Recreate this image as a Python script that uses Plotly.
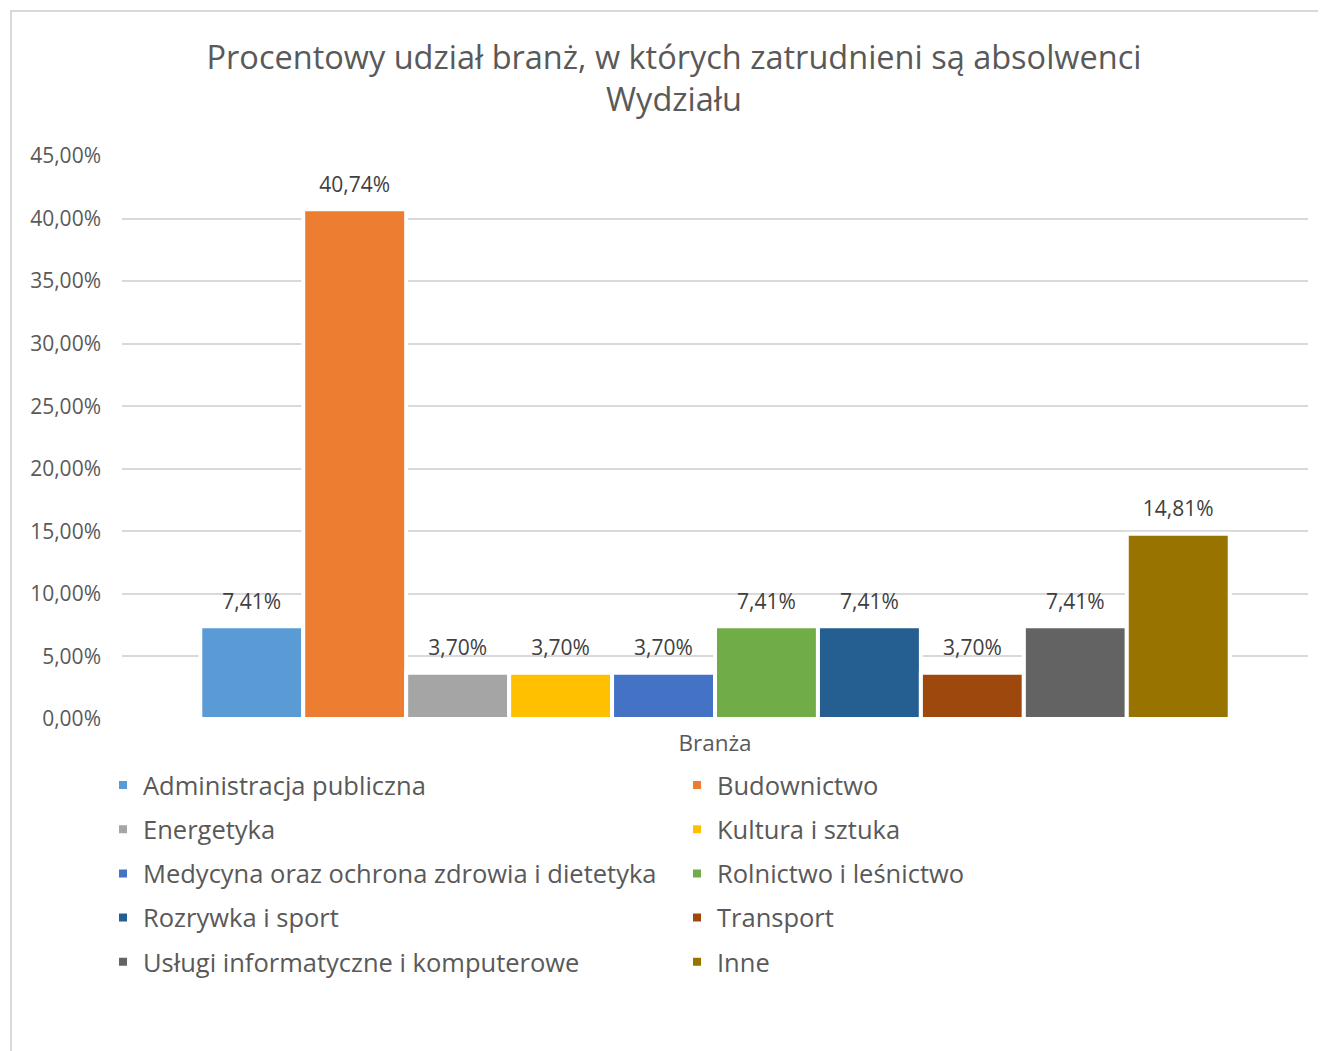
import plotly.graph_objects as go

categories = ["Branża"]
series_names = [
    "Administracja publiczna", "Budownictwo", "Energetyka", "Kultura i sztuka",
    "Medycyna oraz ochrona zdrowia i dietetyka", "Rolnictwo i leśnictwo",
    "Rozrywka i sport", "Transport", "Usługi informatyczne i komputerowe", "Inne",
]
series_values = [0.0741, 0.4074, 0.0370, 0.0370, 0.0370, 0.0741, 0.0741, 0.0370, 0.0741, 0.1481]
series_colors = ["#5B9BD5", "#ED7D31", "#A5A5A5", "#FFC000", "#4472C4",
                 "#70AD47", "#255E91", "#9E480E", "#636363", "#997300"]
tick_values = [0, 0.05, 0.10, 0.15, 0.20, 0.25, 0.30, 0.35, 0.40, 0.45]

FONT = "Open Sans"
OFF = 8  # page body margin
W, H = 1326 - OFF, 1051 - OFF
# target screen positions
L_s, R_s, T_s, B_s = 122, 1308, 156, 719
L, T = L_s - OFF, T_s - OFF
R = W - (R_s - OFF)
B = H - (B_s - OFF)
pw, ph = W - L - R, H - T - B

def px(xs):
    return (xs - OFF - L) / pw

def py(ys):
    return (H - B - (ys - OFF)) / ph

fig = go.Figure()
for i, (name, val, col) in enumerate(zip(series_names, series_values, series_colors)):
    fig.add_trace(go.Bar(
        name=name, x=categories, y=[val],
        marker=dict(color=col, line=dict(color="white", width=4)),
        offsetgroup=str(i),
        legend="legend" if i % 2 == 0 else "legend2",
        legendgroup=name,
    ))
for i, (name, val) in enumerate(zip(series_names, series_values)):
    fig.add_trace(go.Scatter(
        x=categories, y=[val], mode="markers+text",
        text=[f"{val*100:.2f}%".replace(".", ",")],
        textposition="top center",
        textfont=dict(family=FONT, size=21, color="#404040"),
        marker=dict(size=18, color="rgba(0,0,0,0)"),
        offsetgroup=str(i), showlegend=False, hoverinfo="skip",
        cliponaxis=False,
    ))

leg_common = dict(
    orientation="v", yanchor="top", xanchor="left",
    font=dict(family=FONT, size=25.5, color="#595959"),
    tracegroupgap=8, itemclick=False, bgcolor="rgba(0,0,0,0)",
)

fig.update_layout(
    width=W, height=H,
    margin=dict(l=L, r=R, t=T, b=B),
    paper_bgcolor="white", plot_bgcolor="white",
    separators=", ",
    barmode="group", bargap=0.132, bargroupgap=0,
    scattermode="group", scattergap=0.132,
    font=dict(family=FONT, color="#595959"),
    title=dict(
        text="Procentowy udział branż, w których zatrudnieni są absolwenci<br>Wydziału",
        x=(674 - OFF) / W, xanchor="center", xref="container",
        y=1 - (69 - OFF) / H, yanchor="middle", yref="container",
        font=dict(family=FONT, size=32.5, color="#595959"),
    ),
    yaxis=dict(
        range=[0, 0.45], tickvals=tick_values, tickformat=".2%",
        showgrid=True, gridcolor="#D9D9D9", gridwidth=1.5,
        zeroline=False, showline=False, ticks="",
        ticklabelstandoff=20,
        tickfont=dict(family=FONT, size=21, color="#595959"),
    ),
    xaxis=dict(
        showline=False, ticks="", showgrid=False,
        ticklabelstandoff=8,
        tickfont=dict(family=FONT, size=22.5, color="#595959"),
    ),
    showlegend=True,
    legend=dict(x=px(103), y=py(762), **leg_common),
    legend2=dict(x=px(677), y=py(762), **leg_common),
    shapes=[dict(
        type="rect", xref="paper", yref="paper",
        x0=px(11), x1=px(1345), y0=py(1070), y1=py(11),
        line=dict(color="#D9D9D9", width=2), fillcolor="rgba(0,0,0,0)",
        layer="below",
    )],
)

fig.write_html("out.html")
